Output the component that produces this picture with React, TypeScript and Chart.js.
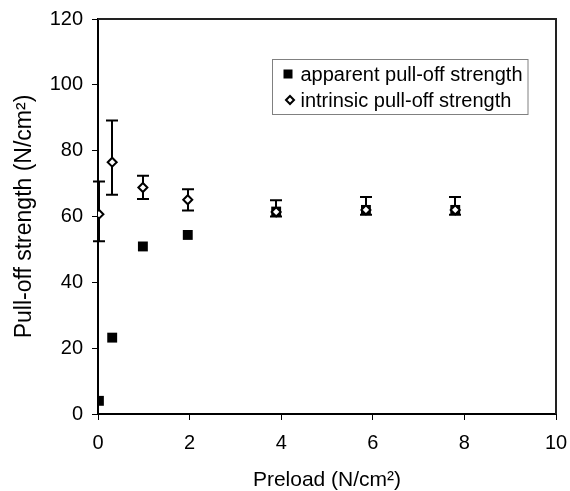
import React, { useEffect, useRef } from "react";
import { Chart, registerables } from "chart.js";

Chart.register(...registerables);

// ---- data ----
const preload = [0.02, 0.31, 0.98, 1.96, 3.89, 5.85, 7.8];
const apparent = [4.0, 23.2, 50.9, 54.4, 61.5, 62.0, 62.0];
const intrinsic = [60.7, 76.5, 68.8, 65.1, 61.4, 62.0, 62.0];
const intrinsicLow = [52.5, 66.6, 65.3, 61.8, 60.0, 60.5, 60.5];
const intrinsicHigh = [70.6, 89.2, 72.4, 68.3, 64.9, 65.9, 65.9];
const legendLabels = ["apparent pull-off strength", "intrinsic pull-off strength"];
const xTitle = "Preload (N/cm²)";
const yTitle = "Pull-off strength (N/cm²)";
const xMin = 0, xMax = 10, xStep = 2;
const yMin = 0, yMax = 120, yStep = 20;

const FONT = "'Liberation Sans', Arial, Helvetica, sans-serif";

const errorBarsPlugin = {
  id: "errorBars",
  beforeDatasetsDraw(chart: any) {
    const { ctx, scales } = chart;
    const x = scales.x, y = scales.y;
    ctx.save();
    ctx.strokeStyle = "#000";
    ctx.lineWidth = 2;
    const cap = 6;
    preload.forEach((p, i) => {
      const px = Math.round(x.getPixelForValue(p));
      const lo = y.getPixelForValue(intrinsicLow[i]);
      const hi = y.getPixelForValue(intrinsicHigh[i]);
      ctx.beginPath();
      ctx.moveTo(px, lo);
      ctx.lineTo(px, hi);
      ctx.moveTo(px - cap, hi);
      ctx.lineTo(px + cap, hi);
      ctx.moveTo(px - cap, lo);
      ctx.lineTo(px + cap, lo);
      ctx.stroke();
    });
    ctx.restore();
  },
};

const framePlugin = {
  id: "frame",
  beforeDatasetsDraw(chart: any) {
    const { ctx, chartArea } = chart;
    ctx.save();
    ctx.strokeStyle = "#222";
    ctx.lineWidth = 2;
    ctx.beginPath();
    ctx.moveTo(chartArea.left, chartArea.top);
    ctx.lineTo(chartArea.right, chartArea.top);
    ctx.lineTo(chartArea.right, chartArea.bottom);
    ctx.stroke();
    ctx.restore();
  },
};

const legendPlugin = {
  id: "boxLegend",
  afterDraw(chart: any) {
    const { ctx, chartArea } = chart;
    const bx = chartArea.right - 284.5;
    const by = chartArea.top + 40;
    const bw = 255.5;
    const bh = 55;
    ctx.save();
    ctx.fillStyle = "#fff";
    ctx.fillRect(bx, by, bw, bh);
    ctx.strokeStyle = "#808080";
    ctx.lineWidth = 1;
    ctx.strokeRect(Math.round(bx) + 0.5, Math.round(by) + 0.5, bw, bh);

    const row1 = by + 15;
    const row2 = by + 41;
    // square marker
    ctx.fillStyle = "#000";
    ctx.fillRect(bx + 12, row1 - 4.5, 9, 9);
    // diamond marker
    const dx = bx + 18.5, r = 4;
    ctx.beginPath();
    ctx.moveTo(dx - r, row2);
    ctx.lineTo(dx, row2 - r);
    ctx.lineTo(dx + r, row2);
    ctx.lineTo(dx, row2 + r);
    ctx.closePath();
    ctx.fillStyle = "#fff";
    ctx.fill();
    ctx.strokeStyle = "#000";
    ctx.lineWidth = 2;
    ctx.stroke();

    ctx.fillStyle = "#000";
    ctx.font = `20px ${FONT}`;
    ctx.textBaseline = "middle";
    ctx.textAlign = "left";
    ctx.fillText(legendLabels[0], bx + 29, row1 + 1);
    ctx.fillText(legendLabels[1], bx + 29, row2 + 1);
    ctx.restore();
  },
};

export default function App() {
  const canvasRef = useRef<HTMLCanvasElement | null>(null);

  useEffect(() => {
    const canvas = canvasRef.current;
    if (!canvas) return;
    const chart = new Chart(canvas, {
      type: "scatter",
      data: {
        datasets: [
          {
            label: legendLabels[0],
            data: preload.map((p, i) => ({ x: p, y: apparent[i] })),
            pointStyle: "rect",
            pointRadius: 7,
            pointHoverRadius: 7,
            borderWidth: 0,
            backgroundColor: "#000",
            borderColor: "#000",
            showLine: false,
            order: 1,
          },
          {
            label: legendLabels[1],
            data: preload.map((p, i) => ({ x: p, y: intrinsic[i] })),
            pointStyle: "rectRot",
            pointRadius: 4.5,
            pointHoverRadius: 4.5,
            borderWidth: 2,
            backgroundColor: "#fff",
            borderColor: "#000",
            showLine: false,
            order: 0,
          },
        ],
      },
      options: {
        responsive: false,
        animation: false,
        events: [],
        layout: { padding: { left: 0, right: 14, top: 19, bottom: 0 } },
        plugins: {
          legend: { display: false },
          tooltip: { enabled: false },
        },
        scales: {
          x: {
            type: "linear",
            min: xMin,
            max: xMax,
            ticks: {
              stepSize: xStep,
              color: "#000",
              padding: 11,
              font: { family: FONT, size: 20 },
            },
            grid: {
              drawOnChartArea: false,
              drawTicks: true,
              tickLength: 6,
              color: "#000",
              lineWidth: 1,
            },
            border: { display: true, color: "#000", width: 2 },
            title: {
              display: true,
              text: xTitle,
              color: "#000",
              font: { family: FONT, size: 21, lineHeight: 1 },
              padding: { top: 0, bottom: 0 },
            },
            afterFit: (scale: any) => {
              scale.height = 77;
              scale.paddingLeft = 0;
              scale.paddingRight = 0;
            },
          },
          y: {
            type: "linear",
            min: yMin,
            max: yMax,
            ticks: {
              stepSize: yStep,
              color: "#000",
              padding: 9,
              font: { family: FONT, size: 20 },
            },
            grid: {
              drawOnChartArea: false,
              drawTicks: true,
              tickLength: 6,
              color: "#000",
              lineWidth: 1,
            },
            border: { display: true, color: "#000", width: 2 },
            title: {
              display: true,
              text: yTitle,
              color: "#000",
              font: { family: FONT, size: 23, lineHeight: 1.2 },
              padding: { top: 11, bottom: 0 },
            },
            afterFit: (scale: any) => {
              scale.width = 98;
              scale.paddingTop = 0;
              scale.paddingBottom = 0;
            },
          },
        },
      },
      plugins: [errorBarsPlugin, framePlugin, legendPlugin],
    });
    return () => chart.destroy();
  }, []);

  return (
    <div style={{ position: "fixed", left: 0, top: 0, width: 570, height: 491, background: "#fff" }}>
      <canvas ref={canvasRef} width={570} height={491} style={{ display: "block" }} />
    </div>
  );
}
